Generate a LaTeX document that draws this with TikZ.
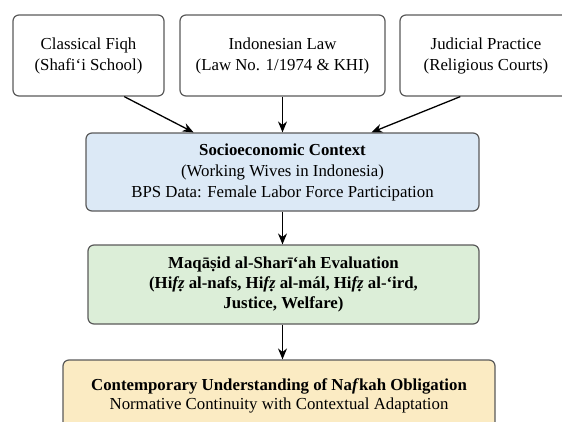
\documentclass[tikz,border=0pt]{standalone}
\usepackage{fontspec}
\setmainfont{Liberation Serif}
\usetikzlibrary{
    arrows.meta,
    positioning
}
\definecolor{boxline}{HTML}{5A5A5A}
\definecolor{ctxblue}{HTML}{DCE9F6}
\definecolor{evalgreen}{HTML}{DCEED8}
\definecolor{resultorange}{HTML}{FBEBC3}

\tikzset{
    srcbox/.style={draw=boxline, line width=1.2pt, rounded corners=6pt,
        fill=white, align=center, inner sep=0pt},
    stagebox/.style={srcbox},
    flow/.style={-{Stealth[length=11pt,width=9pt]}, line width=1.3pt}
}

\begin{document}
\begin{tikzpicture}[x=1pt, y=-1pt, font=\fontsize{16.8}{21}\selectfont]
    \useasboundingbox (0,0) rectangle (562,421);

    % sources
    \node[srcbox, minimum width=151pt, minimum height=81pt] (fiqh) at (88.5,55.5)
        {Classical Fiqh\\(Shafi‘i School)};
    \node[srcbox, minimum width=205pt, minimum height=81pt] (law) at (282.5,55.5)
        {Indonesian Law\\(Law No. 1/1974 \& KHI)};
    \node[srcbox, minimum width=172pt, minimum height=81pt] (court) at (486,55.5)
        {Judicial Practice\\(Religious Courts)};

    % stages
    \node[stagebox, fill=ctxblue, minimum width=393pt, minimum height=78pt] (context) at (282.5,172)
        {\textbf{Socioeconomic Context}\\(Working Wives in Indonesia)\\BPS Data: Female Labor Force Participation};
    \node[stagebox, fill=evalgreen, minimum width=391pt, minimum height=79pt,
        font=\fontsize{16.8}{20}\selectfont\bfseries] (maqasid) at (283.5,284.5)
        {Maqāṣid al-Sharī‘ah Evaluation\\(Hi\textit{fẓ} al-nafs, Hi\textit{fẓ} al-mál, Hi\textit{fẓ} al-‘ird,\\Justice, Welfare)};
    \node[stagebox, fill=resultorange, minimum width=432pt, minimum height=72pt,
        font=\fontsize{16.8}{19}\selectfont] (nafkah) at (279,396)
        {\textbf{Contemporary Understanding of Na\textit{f}kah Obligation}\\Normative Continuity with Contextual Adaptation};

    \draw[flow] (fiqh.-49) -- (context.156);
    \draw[flow] (law.south) -- (context.north);
    \draw[flow] (court.-122) -- (context.24);
    \draw[flow] (context.south) -- (context.south |- maqasid.north);
    \draw[flow] (maqasid.south -| context.south) -- (context.south |- nafkah.north);
\end{tikzpicture}
\end{document}
